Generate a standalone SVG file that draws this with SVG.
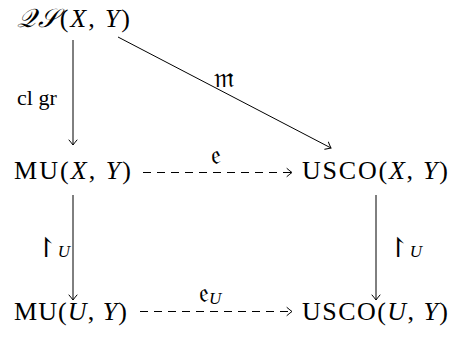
<svg xmlns="http://www.w3.org/2000/svg" width="452" height="341" viewBox="0 0 452 341">
<defs>
<marker id="ah" markerUnits="userSpaceOnUse" markerWidth="12" markerHeight="12" viewBox="-8 -6 10 12" refX="0" refY="0" orient="auto">
<path d="M-5,-4 Q-1.5,-1 0,0 Q-1.5,1 -5,4" fill="none" stroke="#000" stroke-width="1" stroke-linecap="round"/>
</marker>
</defs>
<style>
text{font-family:"Liberation Serif","DejaVu Serif",serif;fill:#000}
.n{font-size:26px}
.l{font-size:22px}
.f{font-size:27px}
.r{font-size:27px}
.i{font-style:italic}
.s{font-style:italic;font-size:17px}
.c{stroke:#000;stroke-width:1;fill:none;marker-end:url(#ah)}
.d{stroke-dasharray:8,6}
</style>
<g id="connectors">
<line class="c" x1="73" y1="40" x2="73" y2="145"/>
<line class="c" x1="118" y1="37" x2="331" y2="148"/>
<line class="c d" x1="143" y1="172.5" x2="292" y2="172.5"/>
<line class="c" x1="73" y1="195" x2="73" y2="300"/>
<line class="c" x1="376" y1="195" x2="376" y2="300"/>
<line class="c d" x1="140" y1="311.5" x2="292" y2="311.5"/>
<text class="l" x="17" y="105">cl gr</text>
<text class="f" x="214" y="87">𝔪</text>
<text class="f" x="211" y="164">𝔢</text>
<text class="f" x="199" y="302">𝔢<tspan class="s" dy="2">U</tspan></text>
<text class="r" x="35" y="257">↾<tspan class="s">U</tspan></text>
<text class="r" x="387" y="257">↾<tspan class="s">U</tspan></text>
</g>
<g id="qs"><text class="n" x="17" y="27" textLength="113" lengthAdjust="spacing"><tspan class="i">𝒬𝒮</tspan>(<tspan class="i">X</tspan>, <tspan class="i">Y</tspan>)</text></g>
<g id="mu-xy"><text class="n" x="14" y="179" textLength="117" lengthAdjust="spacing">MU(<tspan class="i">X</tspan>, <tspan class="i">Y</tspan>)</text></g>
<g id="usco-xy"><text class="n" x="302" y="179" textLength="146" lengthAdjust="spacing">USCO(<tspan class="i">X</tspan>, <tspan class="i">Y</tspan>)</text></g>
<g id="mu-uy"><text class="n" x="14" y="320" textLength="113" lengthAdjust="spacing">MU(<tspan class="i">U</tspan>, <tspan class="i">Y</tspan>)</text></g>
<g id="usco-uy"><text class="n" x="302" y="320" textLength="146" lengthAdjust="spacing">USCO(<tspan class="i">U</tspan>, <tspan class="i">Y</tspan>)</text></g>
</svg>
